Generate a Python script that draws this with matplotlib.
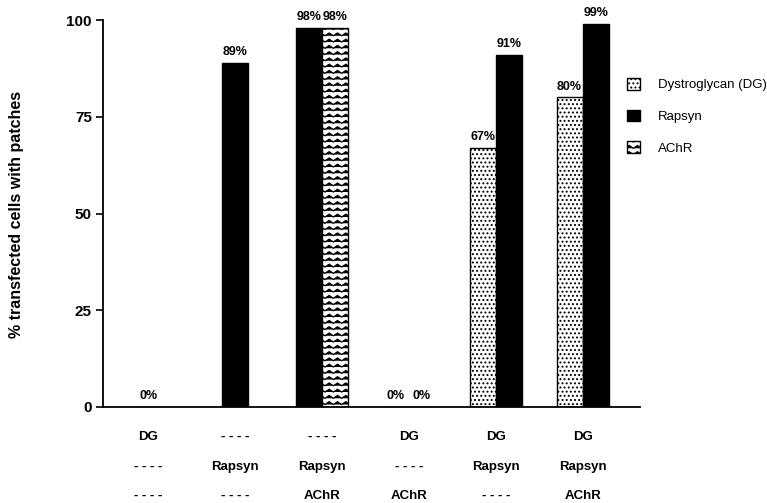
import warnings
warnings.filterwarnings('ignore')
import numpy as np
import matplotlib
matplotlib.use('Agg')
import matplotlib.pyplot as plt
from matplotlib import hatch as mhatch
from matplotlib.path import Path
from matplotlib.transforms import blended_transform_factory

nan = np.nan
# ---------------- data ----------------
row1_labels = ['DG', '- - - -', '- - - -', 'DG', 'DG', 'DG']
row2_labels = ['- - - -', 'Rapsyn', 'Rapsyn', '- - - -', 'Rapsyn', 'Rapsyn']
row3_labels = ['- - - -', '- - - -', 'AChR', 'AChR', '- - - -', 'AChR']
series_names = ['Dystroglycan (DG)', 'Rapsyn', 'AChR']
dg_values = [0, nan, nan, 0, 67, 80]
rapsyn_values = [nan, 89, 98, nan, 91, 99]
achr_values = [nan, nan, 98, 0, nan, nan]
y_ticks = [0, 25, 50, 75, 100]
y_label = '% transfected cells with patches'


# ------------- custom zig-zag hatch -------------
class ZigZagHatch(mhatch.HatchPatternBase):
    def __init__(self, hatch, density):
        self.num_rows = hatch.count('z') * 16
        self.num_zigs = 12
        self.num_vertices = self.num_rows * (2 * self.num_zigs + 1)

    def set_vertices_and_codes(self, vertices, codes):
        if self.num_rows == 0:
            return
        npts = 2 * self.num_zigs + 1
        xs = np.linspace(0, 1, npts)
        amp = 0.014
        offs = np.where(np.arange(npts) % 2 == 0, -amp, amp)
        for i in range(self.num_rows):
            y0 = (i + 0.5) / self.num_rows
            s = slice(i * npts, (i + 1) * npts)
            vertices[s, 0] = xs
            vertices[s, 1] = y0 + offs
            codes[i * npts] = Path.MOVETO
            codes[i * npts + 1:(i + 1) * npts] = Path.LINETO


mhatch._hatch_types.append(ZigZagHatch)

plt.rcParams['font.family'] = ['Liberation Sans', 'DejaVu Sans']
plt.rcParams['hatch.linewidth'] = 0.9
plt.rcParams['hatch.color'] = 'black'

fig = plt.figure(figsize=(7.67, 5.03), dpi=100)
ax = fig.add_axes([103 / 767, 1 - 407 / 503, (640 - 103) / 767, (407 - 20) / 503])

series = [dg_values, rapsyn_values, achr_values]
styles = [dict(facecolor='white', hatch='....'),
          dict(facecolor='black', hatch=None),
          dict(facecolor='white', hatch='z')]
n_groups = len(row1_labels)
width = 0.30

# bars present in each group are centred on the group position
xpos = [[nan] * n_groups for _ in series]
for g in range(n_groups):
    present = [s for s in range(len(series)) if not np.isnan(series[s][g])]
    n = len(present)
    for k, s in enumerate(present):
        xpos[s][g] = g + (k - (n - 1) / 2) * width

for s, (vals, name, st) in enumerate(zip(series, series_names, styles)):
    xs = [x for x, v in zip(xpos[s], vals) if not np.isnan(v)]
    vs = [v for v in vals if not np.isnan(v)]
    ax.bar(xs, vs, width=width, edgecolor='black', linewidth=1.0,
           label=name, **st)
    for x, v in zip(xs, vs):
        ax.annotate(f'{v:.0f}%', (x, v), xytext=(0, 3.5), textcoords='offset points',
                    ha='center', va='bottom', fontsize=9, fontweight='bold')

ax.set_xlim(-0.52, n_groups - 1 + 0.66)
ax.set_ylim(0, 100)
ax.set_yticks(y_ticks)
ax.set_yticklabels([str(t) for t in y_ticks], fontsize=11, fontweight='bold')
ax.set_xticks([])
ax.tick_params(axis='y', direction='out', length=5, width=1.2, pad=3)
for sp in ['top', 'right']:
    ax.spines[sp].set_visible(False)
ax.spines['left'].set_linewidth(1.3)
ax.spines['bottom'].set_linewidth(1.3)

trans = blended_transform_factory(ax.transData, fig.transFigure)
for rowlabels, yy in zip([row1_labels, row2_labels, row3_labels],
                         [1 - 437 / 503, 1 - 467 / 503, 1 - 496 / 503]):
    for g, lab in enumerate(rowlabels):
        fig.text(g, yy, lab, transform=trans, ha='center', va='center',
                 fontsize=9.5, fontweight='bold')

fig.text(17 / 767, 1 - 214 / 503, y_label, rotation=90, ha='center', va='center',
         fontsize=11.5, fontweight='bold')

ax.legend(loc='upper left', bbox_to_anchor=(627 / 767, 1 - 78 / 503),
          bbox_transform=fig.transFigure, frameon=False, fontsize=9.5,
          handlelength=1.0, handleheight=1.0, handletextpad=1.35,
          labelspacing=1.38, borderpad=0, borderaxespad=0)

fig.savefig('out.png', dpi=100)
